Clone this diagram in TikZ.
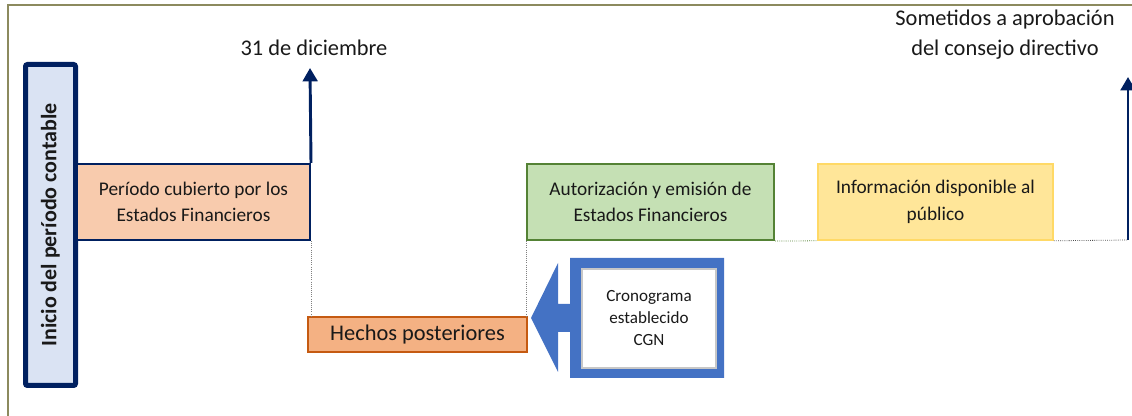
\documentclass[tikz,border=0pt]{standalone}
\usepackage{fontspec}
\setmainfont{Carlito}
\usetikzlibrary{arrows.meta}

\definecolor{navy}{HTML}{002060}
\definecolor{marco}{HTML}{8C8A5E}
\definecolor{inicioFill}{HTML}{DAE3F3}
\definecolor{periodoFill}{HTML}{F8CBAD}
\definecolor{hechosFill}{HTML}{F4B183}
\definecolor{hechosLine}{HTML}{C55A11}
\definecolor{autFill}{HTML}{C5E0B4}
\definecolor{autLine}{HTML}{548235}
\definecolor{infoFill}{HTML}{FFE699}
\definecolor{infoLine}{HTML}{FFD966}
\definecolor{azul}{HTML}{4472C4}

\tikzset{
  etapa/.style={draw, align=center, text=black!90, inner sep=0pt},
  hito/.style={navy, line width=2.2pt, -{Triangle[width=11pt,length=10pt]}},
  guia/.style={densely dotted, line width=0.6pt, gray}
}

\begin{document}
\begin{tikzpicture}[x=0.75pt, y=-0.75pt]
 	\useasboundingbox (0,0) rectangle (1132,416);
 	% marco
 	\draw[marco, line width=1.5pt] (8,416) -- (8,5) -- (1132,5);

 	\node[etapa, fill=inicioFill, draw=navy, line width=3.75pt, rounded corners=1.5pt,
 	      minimum width=37.5pt, minimum height=240.75pt] (inicio) at (50.5,225)
 	      {\rotatebox{90}{\fontsize{16.5}{19}\selectfont\bfseries Inicio del período contable}};

 	\node[etapa, fill=periodoFill, draw=navy, line width=1.5pt,
 	      minimum width=174.75pt, minimum height=57pt, font=\fontsize{14.5}{20}\selectfont] (periodo) at (193.5,202)
 	      {Período cubierto por los\\Estados Financieros};

 	\node[etapa, fill=hechosFill, draw=hechosLine, line width=1.6pt,
 	      minimum width=164.25pt, minimum height=26.25pt, font=\fontsize{16.8}{20}\selectfont] (hechos) at (417.5,334.5)
 	      {Hechos posteriores};

 	\node[etapa, fill=autFill, draw=autLine, line width=1.6pt,
 	      minimum width=185.25pt, minimum height=57pt, font=\fontsize{14.5}{20}\selectfont] (autoriz) at (650.5,202)
 	      {Autorización y emisión de\\Estados Financieros};

 	\node[etapa, fill=infoFill, draw=infoLine, line width=1.2pt,
 	      minimum width=176.25pt, minimum height=57pt, font=\fontsize{14.5}{20}\selectfont] (info) at (935.5,202)
 	      {Información disponible al\\público};

 	% flecha del cronograma
 	\fill[azul] (570,258) -- (724,258) -- (724,378) -- (570,378) -- (570,332) -- (558,332)
 	      -- (558,372) -- (531,318) -- (558,263) -- (558,304) -- (570,304) -- cycle;
 	\node[etapa, fill=white, draw=black!22, line width=2pt,
 	      minimum width=100.5pt, minimum height=74.25pt, font=\fontsize{12.8}{16.5}\selectfont] (crono) at (649,318.5)
 	      {Cronograma\\establecido\\CGN};

 	% hitos
 	\coordinate (dic) at (310,68);
 	\coordinate (finbase) at (1128,240);
 	\coordinate (fin) at (1128,77);
 	\draw[hito] (periodo.north east) -- (dic);
 	\draw[hito] (finbase) -- (fin);
 	\node[font=\fontsize{16.8}{20}\selectfont, text=black!90] (diclabel) at (314,48) {31 de diciembre};
 	\node[font=\fontsize{16.8}{22.5}\selectfont, text=black!90, align=center] (finlabel) at (1005,35)
 	      {Sometidos a aprobación\\del consejo directivo};

 	% lineas guia
 	\draw[guia] (periodo.south east) -- (periodo.south east |- hechos.north);
 	\draw[guia] (autoriz.south west) -- (autoriz.south west |- hechos.north);
 	\draw[guia, autLine] (autoriz.south east) -- (info.south west);
 	\draw[guia, black!70] (info.south east) -- (finbase);
\end{tikzpicture}
\end{document}
